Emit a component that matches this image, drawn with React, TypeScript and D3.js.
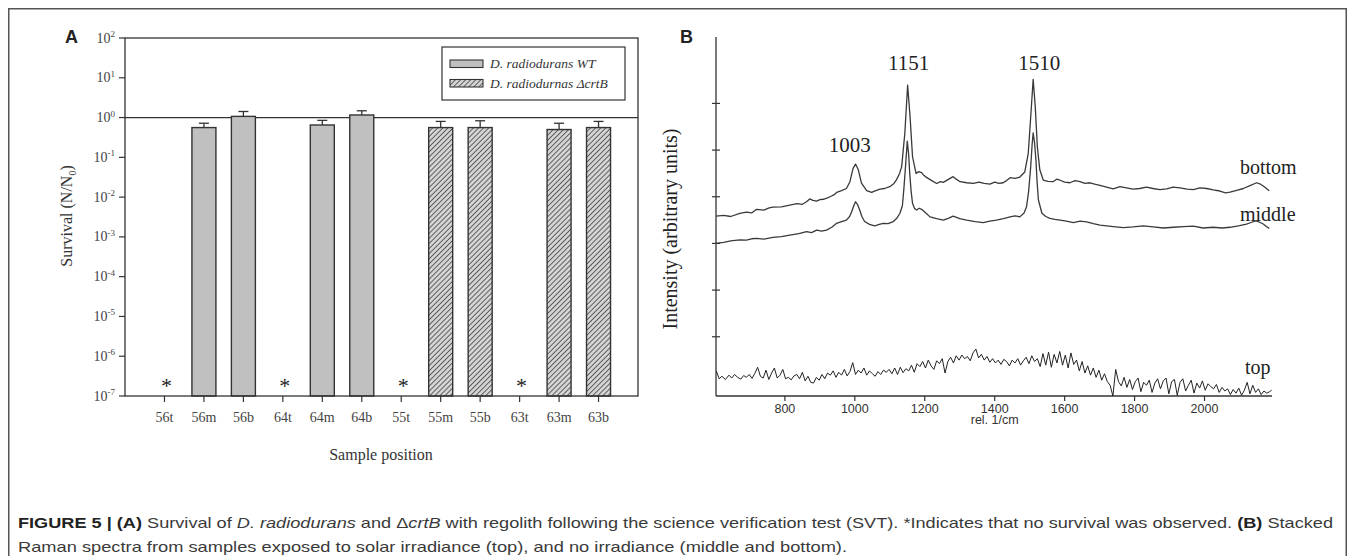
import React from 'react';
import * as d3 from 'd3';

// ---------- Panel A data ----------
const samples = ['56t', '56m', '56b', '64t', '64m', '64b', '55t', '55m', '55b', '63t', '63m', '63b'];
const survival: (number | null)[] = [null, 0.56, 1.07, null, 0.65, 1.16, null, 0.56, 0.56, null, 0.5, 0.56];
const survivalUpper: (number | null)[] = [null, 0.72, 1.42, null, 0.85, 1.48, null, 0.8, 0.83, null, 0.72, 0.8];
const strains = ['WT', 'WT', 'WT', 'WT', 'WT', 'WT', 'crtB', 'crtB', 'crtB', 'crtB', 'crtB', 'crtB'];
const decadeExps = [-7, -6, -5, -4, -3, -2, -1, 0, 1, 2];
const legendLabels = ['D. radiodurans WT', 'D. radiodurnas \u0394crtB'];

// ---------- Panel B data ----------
const ramanXTicks = [800, 1000, 1200, 1400, 1600, 1800, 2000];
const ramanYTicks = [165, 295, 425, 555, 685, 815];
const peakLabels = ['1003', '1151', '1510'];
const peakWaves = [1003, 1151, 1510];

const spectrumBottom: [number, number][] = [
  [603, 501], [625, 503], [645, 500], [671, 509], [690, 512], [705, 510], [719, 520], [740, 518], [755, 524], [766, 526],
  [790, 527], [814, 532], [835, 536], [850, 534], [862, 541], [871, 549], [880, 545], [891, 543], [900, 547], [910, 548],
  [920, 551], [929, 555], [940, 560], [948, 567], [962, 572], [976, 578], [986, 597], [995, 634], [1002, 646], [1010, 630],
  [1019, 593], [1034, 572], [1048, 567], [1060, 572], [1072, 576], [1085, 578], [1100, 583], [1112, 592], [1119, 602], [1128, 620],
  [1134, 639], [1143, 732], [1151, 866], [1158, 778], [1165, 667], [1175, 620], [1183, 625], [1191, 622], [1198, 614], [1205, 609],
  [1220, 600], [1234, 592], [1245, 597], [1253, 595], [1265, 602], [1281, 611], [1290, 604], [1301, 597], [1320, 594], [1339, 592],
  [1355, 596], [1370, 592], [1386, 590], [1400, 596], [1412, 592], [1424, 594], [1434, 600], [1444, 608], [1458, 606], [1472, 610],
  [1486, 624], [1496, 676], [1503, 778], [1510, 882], [1516, 806], [1522, 694], [1529, 630], [1539, 601], [1552, 598], [1567, 597],
  [1577, 604], [1587, 601], [1600, 596], [1615, 594], [1630, 600], [1644, 597], [1658, 592], [1672, 594], [1686, 590], [1701, 587],
  [1720, 582], [1739, 577], [1758, 583], [1777, 580], [1796, 576], [1815, 578], [1834, 582], [1853, 578], [1872, 575], [1892, 577],
  [1910, 582], [1930, 580], [1950, 576], [1968, 575], [1987, 580], [2006, 578], [2025, 574], [2044, 571], [2060, 566], [2073, 568],
  [2092, 573], [2111, 578], [2130, 586], [2149, 594], [2160, 590], [2168, 585], [2177, 578], [2185, 572],
];

const spectrumMiddle: [number, number][] = [
  [603, 425], [625, 428], [645, 432], [671, 435], [690, 434], [705, 438], [719, 439], [740, 437], [766, 442], [790, 444],
  [814, 448], [840, 452], [862, 458], [876, 455], [891, 462], [905, 459], [919, 462], [934, 470], [948, 481], [962, 486],
  [976, 490], [985, 500], [991, 513], [997, 530], [1002, 541], [1008, 533], [1014, 518], [1020, 500], [1028, 486], [1042, 478],
  [1057, 474], [1070, 478], [1081, 481], [1095, 480], [1110, 486], [1120, 495], [1129, 509], [1136, 530], [1140, 574], [1145, 640],
  [1150, 710], [1154, 672], [1157, 620], [1161, 570], [1165, 537], [1171, 522], [1177, 518], [1184, 523], [1191, 520], [1203, 510],
  [1215, 499], [1234, 494], [1253, 490], [1267, 495], [1281, 501], [1300, 494], [1320, 490], [1344, 486], [1367, 483], [1386, 487],
  [1405, 490], [1425, 494], [1444, 499], [1458, 502], [1472, 499], [1484, 510], [1491, 527], [1497, 570], [1503, 639], [1507, 700],
  [1510, 733], [1514, 705], [1518, 657], [1521, 600], [1525, 546], [1535, 509], [1546, 500], [1558, 495], [1572, 492], [1587, 490],
  [1605, 487], [1625, 483], [1644, 487], [1663, 485], [1682, 480], [1701, 476], [1720, 474], [1739, 472], [1768, 469], [1796, 471],
  [1825, 474], [1853, 471], [1882, 468], [1911, 470], [1940, 472], [1968, 473], [1996, 468], [2025, 470], [2050, 468], [2073, 470],
  [2097, 474], [2120, 479], [2135, 484], [2147, 488], [2158, 484], [2168, 479], [2177, 472], [2185, 467],
];

const spectrumTop: [number, number][] = [
  [604, 70], [612, 48], [620, 55], [630, 46], [640, 58], [648, 50], [656, 60], [665, 52], [674, 47], [682, 57],
  [690, 52], [698, 60], [706, 49], [714, 63], [722, 80], [730, 55], [738, 50], [746, 72], [754, 46], [762, 64],
  [770, 78], [778, 50], [786, 58], [794, 74], [802, 48], [810, 52], [818, 45], [826, 56], [834, 60], [842, 48],
  [850, 66], [858, 42], [866, 55], [874, 38], [882, 36], [890, 52], [898, 44], [906, 60], [914, 48], [922, 64],
  [930, 58], [938, 70], [946, 52], [954, 66], [962, 58], [970, 74], [978, 56], [986, 68], [994, 93], [1002, 60],
  [1010, 72], [1018, 64], [1026, 78], [1034, 58], [1042, 70], [1050, 62], [1058, 55], [1066, 68], [1074, 60], [1082, 72],
  [1090, 66], [1098, 74], [1106, 62], [1114, 78], [1122, 60], [1130, 80], [1138, 65], [1146, 76], [1154, 70], [1162, 86],
  [1170, 66], [1178, 90], [1186, 82], [1194, 96], [1202, 78], [1210, 100], [1218, 84], [1226, 74], [1234, 98], [1242, 90],
  [1250, 104], [1258, 64], [1266, 96], [1274, 108], [1282, 92], [1290, 112], [1298, 100], [1306, 114], [1314, 104], [1322, 110],
  [1330, 98], [1338, 120], [1346, 131], [1354, 106], [1362, 116], [1370, 100], [1378, 110], [1386, 94], [1394, 104], [1402, 92],
  [1410, 100], [1418, 88], [1426, 102], [1434, 96], [1442, 84], [1450, 100], [1458, 92], [1466, 104], [1474, 86], [1482, 98],
  [1490, 108], [1498, 90], [1506, 112], [1514, 96], [1522, 104], [1530, 82], [1538, 118], [1546, 86], [1554, 122], [1562, 80],
  [1570, 116], [1578, 92], [1586, 124], [1594, 86], [1602, 114], [1610, 78], [1618, 120], [1626, 88], [1634, 100], [1642, 70],
  [1650, 96], [1658, 64], [1666, 84], [1674, 58], [1682, 78], [1690, 52], [1698, 72], [1706, 44], [1714, 62], [1722, 40],
  [1730, 30], [1738, 0], [1746, 74], [1754, 40], [1762, 28], [1770, 52], [1778, 24], [1786, 46], [1794, 18], [1802, 40],
  [1810, 50], [1818, 12], [1826, 38], [1834, 30], [1842, 44], [1850, 10], [1858, 36], [1866, 48], [1874, 20], [1882, 42],
  [1890, 50], [1898, 6], [1906, 40], [1914, 46], [1922, 2], [1930, 38], [1938, 48], [1946, 14], [1954, 30], [1962, 44],
  [1970, 8], [1978, 36], [1986, 22], [1994, 42], [2002, 16], [2010, 34], [2018, 26], [2026, 20], [2034, 32], [2042, 10],
  [2050, 24], [2058, 14], [2066, 20], [2074, 4], [2082, 18], [2090, 8], [2098, 22], [2106, 2], [2114, 16], [2122, 38],
  [2130, 6], [2138, 30], [2146, 10], [2154, 20], [2162, 4], [2170, 14], [2178, 8], [2186, 12], [2192, 16],
];

const curveNames = ['bottom', 'middle', 'top'];

// ---------- Layout ----------
const W = 1355;
const H = 556;
const SERIF = '"Liberation Serif", "Times New Roman", serif';
const SANS = '"Liberation Sans", Arial, sans-serif';

const A = { left: 125, right: 638, top: 38, bottom: 396 };
const B = { left: 716, right: 1272, top: 37, bottom: 396 };

export default function App() {
  // Panel A scales
  const xA = d3.scaleLinear().domain([-1, 12]).range([A.left, A.right]);
  const yA = d3.scaleLog().domain([1e-7, 1e2]).range([A.bottom, A.top]);
  const barW = 24;
  const capW = 10;

  // Panel B scales
  const xB = d3.scaleLinear().domain([603, 2193]).range([B.left, B.right]);
  const yB = d3.scaleLinear().domain([0, 1000]).range([B.bottom, B.top]);
  const line = d3
    .line<[number, number]>()
    .x((d) => xB(d[0]))
    .y((d) => yB(d[1]));

  const ink = '#333';
  const peakDx = [-6, 1, 6];
  const peakBaseline = [152, 70, 70];
  const curveLabelPos = [
    { x: 1240, y: 174 },
    { x: 1240, y: 221 },
    { x: 1245, y: 374 },
  ];

  return (
    <svg
      width={W}
      height={H}
      viewBox={`0 0 ${W} ${H}`}
      style={{ position: 'absolute', left: 0, top: 0, background: '#fff' }}
    >
      <defs>
        <pattern id="hatch" patternUnits="userSpaceOnUse" width="3.6" height="3.6" patternTransform="rotate(45)">
          <rect width="3.6" height="3.6" fill="#d4d4d4" />
          <line x1="0" y1="0" x2="0" y2="3.6" stroke="#3a3a3a" strokeWidth="1.5" />
        </pattern>
      </defs>

      {/* outer figure border */}
      <path d={`M8.75,${H} V8.75 H1346.25 V${H}`} fill="none" stroke="#555" strokeWidth={1.5} />

      {/* ================= Panel A ================= */}
      <text x={65} y={43} fontFamily={SANS} fontWeight="bold" fontSize={18} fill="#222">A</text>

      {/* y ticks and labels */}
      {decadeExps.map((e) => {
        const y = yA(Math.pow(10, e));
        return (
          <g key={e}>
            <line x1={A.left - 6} x2={A.left} y1={y} y2={y} stroke={ink} strokeWidth={1.2} />
            <text x={115} y={y + 4.5} textAnchor="end" fontFamily={SERIF} fontSize={14} fill="#444">
              10
              <tspan fontSize={9} dy={-5.5}>{e}</tspan>
            </text>
          </g>
        );
      })}

      {/* reference line at 10^0 */}
      <line x1={A.left} x2={A.right} y1={yA(1)} y2={yA(1)} stroke={ink} strokeWidth={1.3} />

      {/* bars */}
      {samples.map((s, i) => {
        const v = survival[i];
        const cx = xA(i);
        if (v == null) return null;
        const yTop = yA(v);
        const yErr = yA(survivalUpper[i] as number);
        return (
          <g key={s}>
            <rect
              x={cx - barW / 2}
              y={yTop}
              width={barW}
              height={A.bottom - yTop}
              fill={strains[i] === 'WT' ? '#c0c0c0' : 'url(#hatch)'}
              stroke={ink}
              strokeWidth={1.4}
            />
            <line x1={cx} x2={cx} y1={yTop} y2={yErr} stroke={ink} strokeWidth={1.3} />
            <line x1={cx - capW / 2} x2={cx + capW / 2} y1={yErr} y2={yErr} stroke={ink} strokeWidth={1.3} />
          </g>
        );
      })}

      {/* asterisks (no survival) */}
      {samples.map((s, i) =>
        survival[i] == null ? (
          <text key={'ast' + s} x={xA(i) + 2} y={393} textAnchor="middle" fontFamily={SERIF} fontSize={22} fill="#222">
            *
          </text>
        ) : null
      )}

      {/* frame */}
      <rect x={A.left} y={A.top} width={A.right - A.left} height={A.bottom - A.top} fill="none" stroke={ink} strokeWidth={1.3} />

      {/* x ticks and labels */}
      {samples.map((s, i) => (
        <g key={'xt' + s}>
          <line x1={xA(i)} x2={xA(i)} y1={A.bottom} y2={A.bottom + 6} stroke={ink} strokeWidth={1.2} />
          <text x={xA(i)} y={422} textAnchor="middle" fontFamily={SERIF} fontSize={14} fill="#444">
            {s}
          </text>
        </g>
      ))}

      <text x={381} y={460} textAnchor="middle" fontFamily={SERIF} fontSize={16} fill="#333">
        Sample position
      </text>

      <text transform="translate(72,216) rotate(-90)" textAnchor="middle" fontFamily={SERIF} fontSize={16} fill="#333">
        Survival (N/N<tspan fontSize={10} dy={4}>0</tspan>
        <tspan dy={-4}>)</tspan>
      </text>

      {/* legend */}
      <rect x={442} y={47} width={183} height={53} fill="#fff" stroke={ink} strokeWidth={1.2} />
      {legendLabels.map((lab, k) => {
        const y = k === 0 ? 60 : 79.5;
        return (
          <g key={lab}>
            <rect x={450} y={y} width={33} height={7.5} fill={k === 0 ? '#c0c0c0' : 'url(#hatch)'} stroke={ink} strokeWidth={1.1} />
            <text x={490} y={y + 8} fontFamily={SERIF} fontStyle="italic" fontSize={13.5} fill="#333">
              {lab}
            </text>
          </g>
        );
      })}

      {/* ================= Panel B ================= */}
      <text x={680} y={43} fontFamily={SANS} fontWeight="bold" fontSize={18} fill="#222">B</text>

      <line x1={B.left} x2={B.left} y1={B.top} y2={B.bottom} stroke={ink} strokeWidth={1.3} />
      <line x1={B.left} x2={B.right} y1={B.bottom} y2={B.bottom} stroke={ink} strokeWidth={1.3} />

      {ramanYTicks.map((t) => (
        <line key={'ry' + t} x1={B.left - 4} x2={B.left + 4} y1={yB(t)} y2={yB(t)} stroke={ink} strokeWidth={1.2} />
      ))}

      {ramanXTicks.map((t) => (
        <g key={'rx' + t}>
          <line x1={xB(t)} x2={xB(t)} y1={B.bottom} y2={B.bottom + 5} stroke={ink} strokeWidth={1.2} />
          <text x={xB(t)} y={412.5} textAnchor="middle" fontFamily={SANS} fontSize={12.5} fill="#333">
            {t}
          </text>
        </g>
      ))}
      <text x={xB(1400)} y={424} textAnchor="middle" fontFamily={SANS} fontSize={12.5} fill="#333">
        rel. 1/cm
      </text>

      <text transform="translate(677,229) rotate(-90)" textAnchor="middle" fontFamily={SERIF} fontSize={20} fill="#222">
        Intensity (arbitrary units)
      </text>

      <path d={line(spectrumBottom) || ''} fill="none" stroke="#3a3a3a" strokeWidth={1.3} strokeLinejoin="round" />
      <path d={line(spectrumMiddle) || ''} fill="none" stroke="#3a3a3a" strokeWidth={1.3} strokeLinejoin="round" />
      <path d={line(spectrumTop) || ''} fill="none" stroke="#222" strokeWidth={1} strokeLinejoin="round" />

      {peakLabels.map((lab, k) => (
        <text key={lab} x={xB(peakWaves[k]) + peakDx[k]} y={peakBaseline[k]} textAnchor="middle" fontFamily={SERIF} fontSize={21} fill="#222">
          {lab}
        </text>
      ))}

      {curveNames.map((n, k) => (
        <text key={n} x={curveLabelPos[k].x} y={curveLabelPos[k].y} fontFamily={SERIF} fontSize={20} fill="#222">
          {n}
        </text>
      ))}

      {/* ================= Caption ================= */}
      <text x={18} y={528} fontFamily={SANS} fontSize={15} fill="#3a3a3a" textLength={1315} lengthAdjust="spacingAndGlyphs">
        <tspan fontWeight="bold" fill="#222">FIGURE 5 | (A)</tspan>
        <tspan> Survival of </tspan>
        <tspan fontStyle="italic">D. radiodurans</tspan>
        <tspan> and {'\u0394'}</tspan>
        <tspan fontStyle="italic">crtB</tspan>
        <tspan> with regolith following the science verification test (SVT). *Indicates that no survival was observed. </tspan>
        <tspan fontWeight="bold" fill="#222">(B)</tspan>
        <tspan> Stacked</tspan>
      </text>
      <text x={18} y={551.5} fontFamily={SANS} fontSize={15} fill="#3a3a3a" textLength={829} lengthAdjust="spacingAndGlyphs">
        Raman spectra from samples exposed to solar irradiance (top), and no irradiance (middle and bottom).
      </text>
    </svg>
  );
}
